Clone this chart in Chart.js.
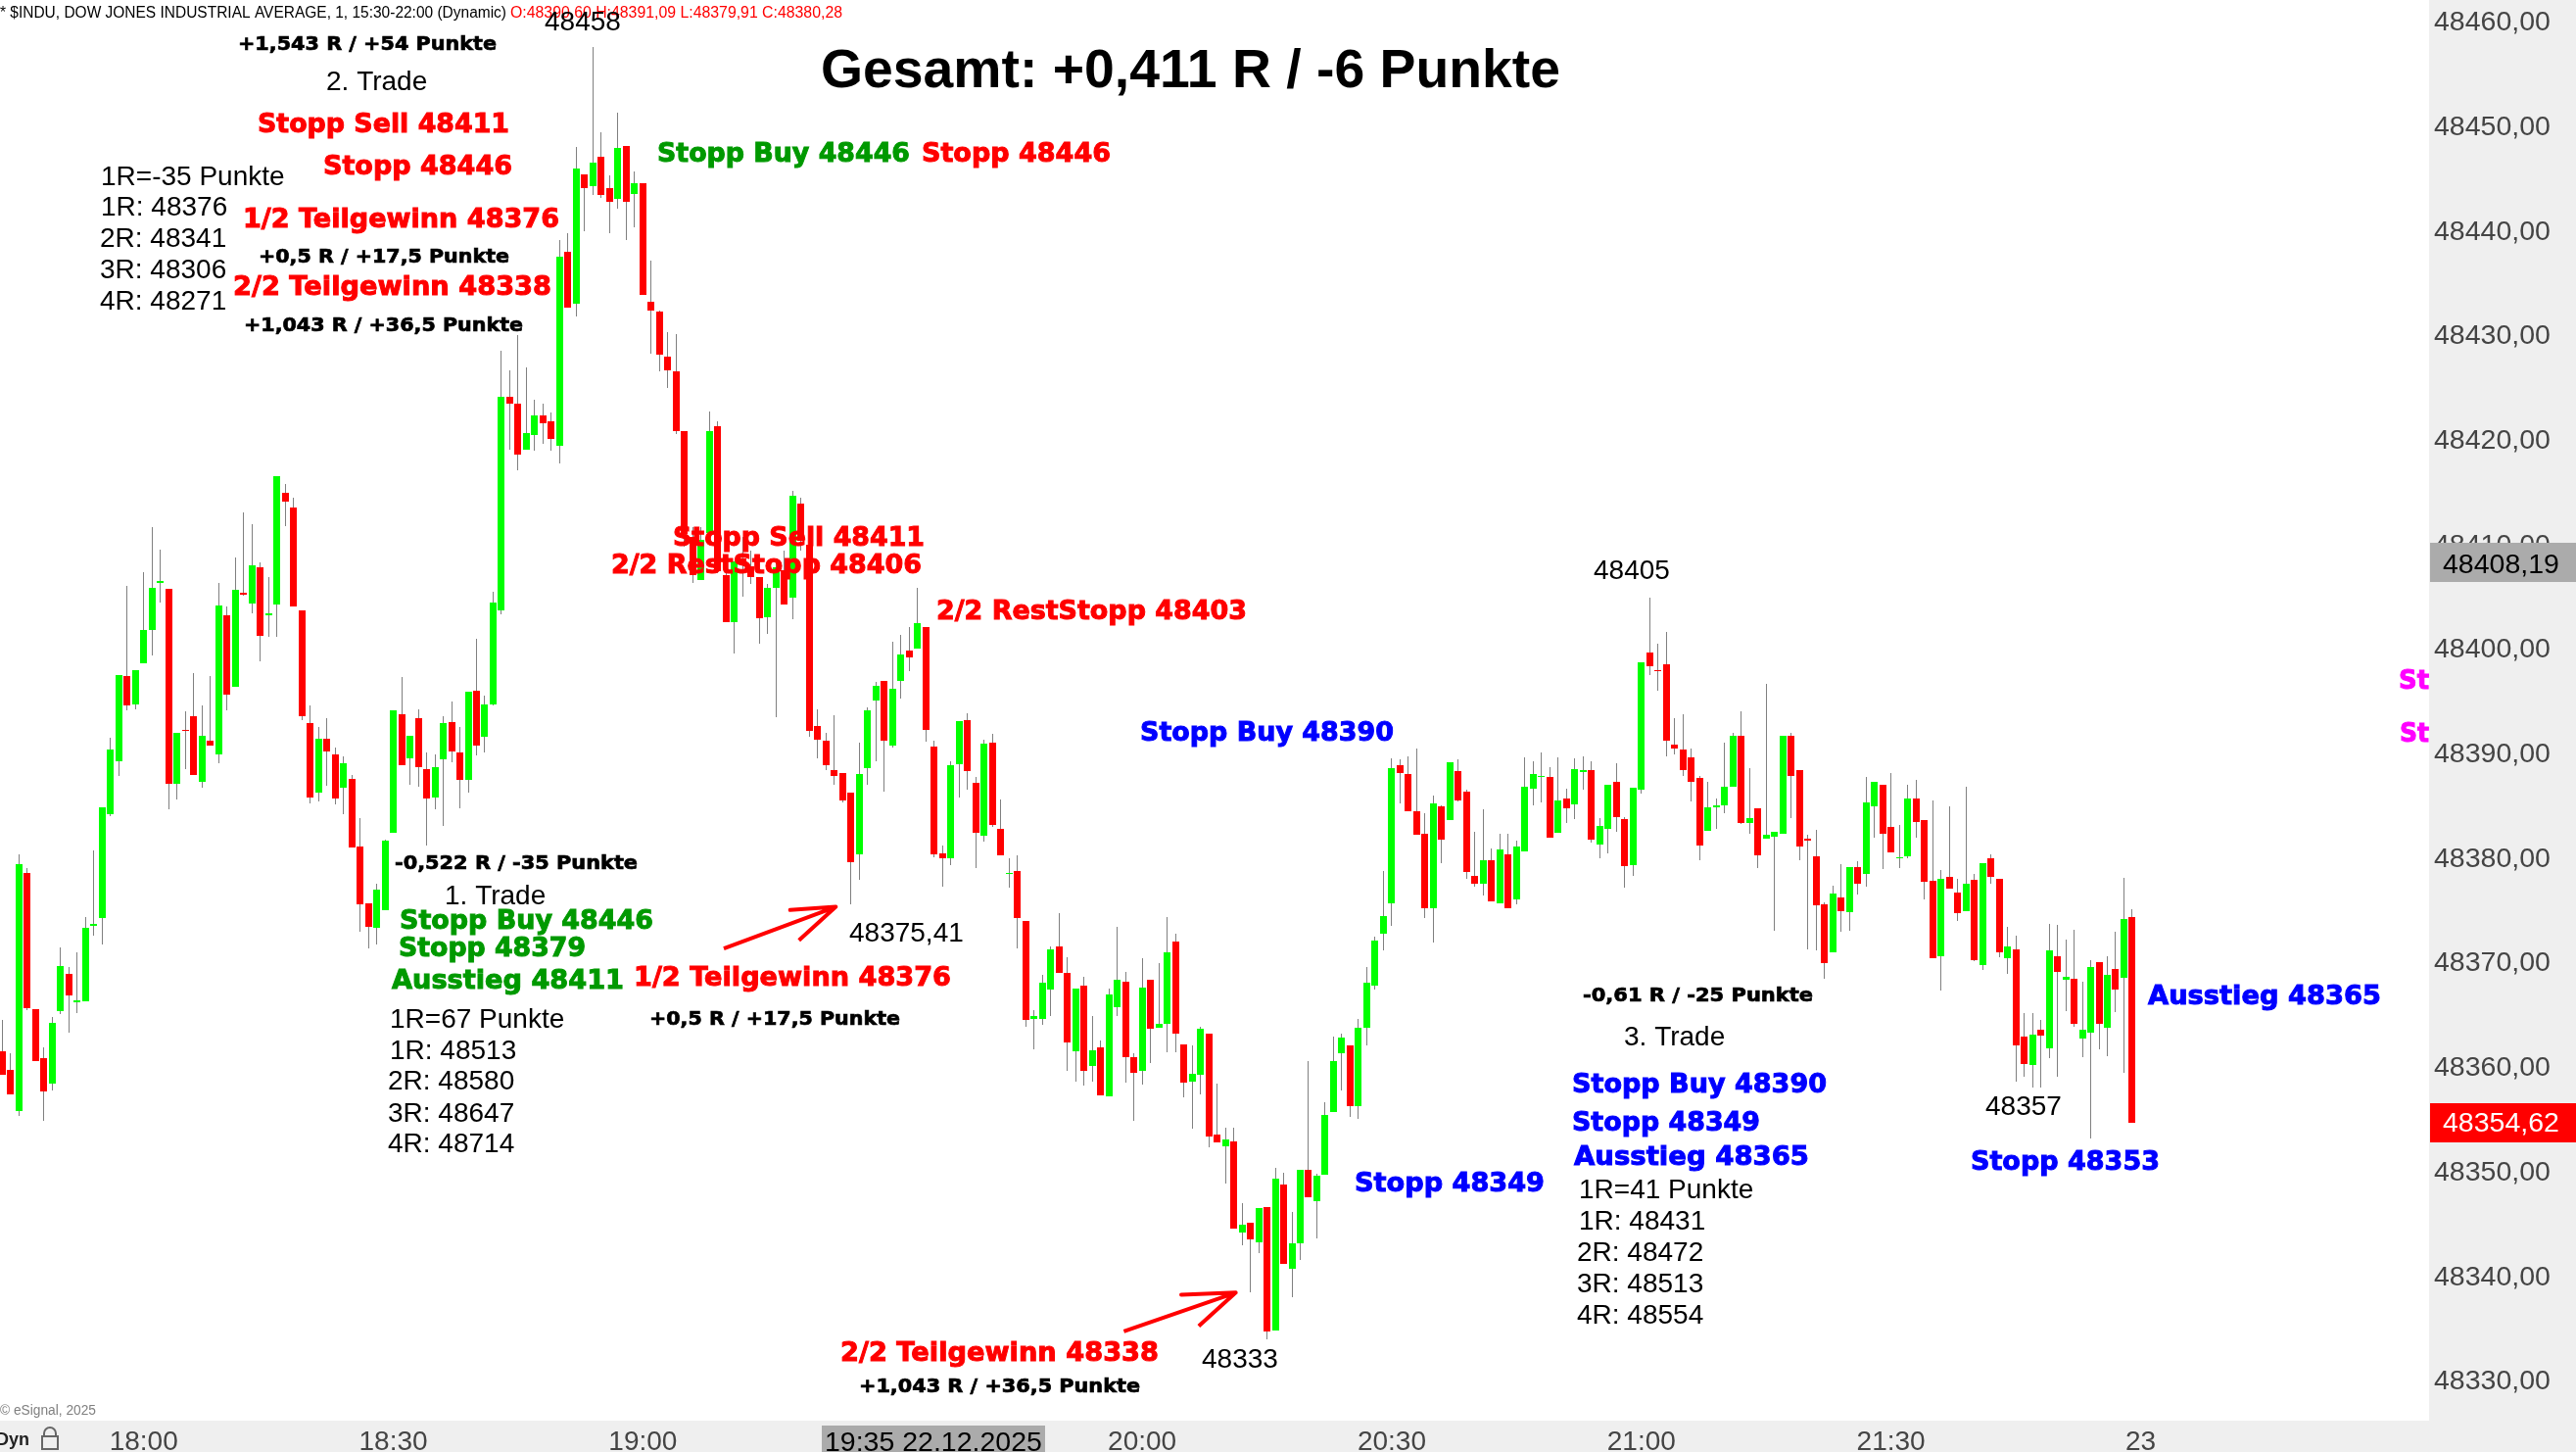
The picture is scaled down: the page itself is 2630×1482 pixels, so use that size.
<!DOCTYPE html>
<html>
<head>
<meta charset="utf-8">
<title>$INDU 1 Minute</title>
<script src="https://cdn.jsdelivr.net/npm/chart.js@4"></script>
<style>
    html, body { margin: 0; padding: 0; background: #fff; overflow: hidden; }
    canvas { display: block; }
</style>
</head>
<body>
<canvas id="candleChart" width="2630" height="1482"></canvas>
<script>
// one candle per minute, first one is 17:43
const opens = [
    48361.5,48359.7,48355.8,48378.5,48365.5,48360.8,48358.4,48365.3,48368.9,48366.2,
    48366.3,48373.5,48374.2,48384.2,48389.2,48397.4,48394.7,48398.6,48401.8,48406.3,
    48405.7,48387.1,48392.2,48393.5,48387.3,48391.2,48389.9,48403.2,48396.3,48405.3,
    48404.3,48407.8,48403.2,48404.2,48414.9,48413.5,48403.7,48392.9,48386.2,48391.4,
    48389.9,48386.7,48387.5,48381.1,48375.6,48373.3,48375.0,48382.4,48393.7,48389.5,
    48393.3,48388.5,48385.8,48389.4,48393.0,48390.1,48387.4,48396.0,48391.6,48394.7,
    48403.7,48424.1,48423.4,48419.0,48420.4,48422.3,48421.7,48419.4,48438.0,48433.0,
    48445.4,48444.2,48447.0,48444.0,48443.0,48448.1,48443.5,48444.5,48433.2,48432.2,
    48427.9,48426.5,48420.8,48410.7,48406.6,48411.1,48421.3,48407.0,48402.5,48408.6,
    48407.9,48406.8,48403.0,48405.8,48407.5,48404.9,48413.9,48409.9,48392.6,48391.2,
    48388.4,48388.1,48386.2,48380.3,48388.6,48395.0,48396.9,48390.7,48396.9,48399.8,
    48400.0,48402.1,48390.6,48380.4,48379.9,48388.9,48393.2,48387.2,48382.1,48391.0,
    48382.8,48378.4,48378.7,48373.9,48364.6,48364.6,48367.4,48371.5,48369.0,48361.5,
    48367.8,48360.1,48361.9,48357.2,48365.7,48368.1,48360.9,48359.6,48368.3,48363.7,
    48364.1,48372.0,48362.1,48358.6,48359.2,48363.2,48353.5,48352.4,48352.9,48344.1,
    48345.1,48343.2,48346.6,48334.8,48348.7,48340.7,48343.1,48350.1,48347.1,48349.7,
    48355.7,48361.3,48362.0,48356.2,48363.7,48367.8,48372.7,48375.6,48388.8,48388.0,
    48384.4,48382.3,48375.2,48384.9,48383.6,48388.3,48386.3,48378.3,48377.5,48379.8,
    48375.6,48380.3,48376.0,48380.6,48386.6,48387.7,48387.7,48382.4,48385.7,48385.1,
    48388.2,48388.4,48381.3,48382.8,48387.3,48383.7,48379.3,48386.5,48399.6,48397.9,
    48398.5,48390.8,48390.3,48389.6,48387.6,48382.6,48384.8,48385.0,48386.8,48391.7,
    48383.3,48384.7,48381.8,48382.0,48382.3,48391.7,48388.4,48381.8,48380.1,48375.5,
    48370.9,48376.2,48374.8,48379.1,48378.4,48384.9,48387.0,48382.9,48379.9,48380.1,
    48385.7,48383.6,48377.8,48370.6,48378.2,48376.7,48374.9,48377.9,48369.7,48379.9,
    48378.0,48370.4,48371.2,48362.9,48360.2,48363.5,48361.8,48370.6,48368.3,48368.4,
    48362.7,48363.3,48370.0,48363.7,48369.4,48368.5,48374.3
];
const highs = [
    48364.5,48361.3,48380.3,48379.0,48365.5,48361.9,48364.8,48371.4,48369.5,48370.9,
    48374.3,48380.7,48384.8,48391.5,48397.5,48406.0,48397.9,48407.3,48411.6,48409.5,
    48405.7,48391.9,48394.0,48397.7,48394.6,48397.4,48406.3,48404.0,48408.7,48413.0,
    48411.9,48408.2,48406.8,48416.5,48415.7,48414.4,48403.7,48394.6,48392.5,48393.3,
    48390.5,48389.7,48387.9,48383.8,48375.6,48377.5,48381.7,48394.1,48397.3,48391.7,
    48394.2,48390.1,48389.9,48393.5,48394.9,48392.5,48395.9,48400.9,48395.5,48405.4,
    48428.5,48426.6,48430.0,48426.9,48423.8,48423.4,48422.6,48439.1,48439.7,48448.0,
    48445.4,48457.5,48449.4,48445.3,48451.3,48448.1,48445.6,48444.5,48437.1,48432.3,
    48430.3,48430.1,48420.8,48411.6,48411.6,48422.7,48421.7,48408.8,48408.3,48410.7,
    48409.4,48406.8,48406.2,48408.6,48409.4,48415.1,48414.4,48409.9,48394.2,48391.9,
    48393.6,48388.1,48386.2,48391.0,48394.4,48396.8,48396.9,48400.7,48401.3,48402.1,
    48405.8,48402.1,48391.2,48381.2,48389.2,48393.1,48393.8,48387.7,48391.3,48391.8,
    48385.6,48379.9,48380.2,48373.9,48365.4,48368.8,48371.5,48374.7,48370.5,48367.5,
    48368.6,48364.9,48362.5,48367.5,48373.4,48369.1,48361.3,48370.4,48368.3,48369.9,
    48374.3,48372.7,48362.1,48362.0,48363.8,48363.2,48358.4,48354.2,48354.2,48347.0,
    48345.1,48346.5,48346.6,48350.3,48349.9,48346.1,48350.1,48360.5,48349.8,48356.6,
    48362.9,48363.2,48362.0,48364.6,48369.5,48372.4,48378.7,48389.5,48389.4,48389.7,
    48390.4,48384.3,48385.9,48385.0,48389.1,48389.4,48386.5,48382.5,48384.6,48380.9,
    48382.3,48382.3,48381.6,48389.6,48389.2,48390.1,48388.7,48389.6,48386.6,48389.5,
    48389.7,48389.2,48383.8,48387.0,48389.0,48383.9,48386.7,48398.7,48404.9,48400.5,
    48401.6,48393.3,48393.7,48390.4,48387.8,48387.3,48385.7,48391.0,48391.9,48394.0,
    48388.6,48384.7,48396.6,48382.5,48391.7,48391.9,48388.4,48382.2,48382.7,48375.7,
    48377.3,48379.4,48379.1,48379.7,48387.7,48387.3,48387.0,48388.1,48383.1,48387.0,
    48387.4,48383.6,48385.5,48378.8,48384.9,48378.0,48386.8,48378.4,48379.5,48380.3,
    48378.0,48373.4,48372.5,48365.1,48365.1,48364.5,48373.7,48373.6,48372.2,48373.1,
    48368.1,48370.2,48370.0,48370.6,48372.9,48378.1,48375.1
];
const lows = [
    48359.2,48357.4,48355.3,48365.4,48360.5,48354.8,48357.7,48365.0,48363.3,48365.1,
    48366.3,48372.5,48371.7,48384.0,48387.8,48394.1,48394.2,48398.6,48399.3,48404.4,
    48384.6,48385.6,48388.5,48387.9,48386.7,48390.7,48389.0,48394.1,48396.3,48405.1,
    48403.4,48398.8,48401.1,48401.1,48411.7,48404.0,48393.2,48385.2,48385.4,48386.9,
    48385.1,48384.2,48381.0,48372.9,48371.3,48371.7,48375.0,48382.4,48388.8,48387.0,
    48386.8,48381.2,48384.6,48383.0,48389.1,48384.7,48386.2,48389.8,48390.1,48394.6,
    48403.3,48419.0,48417.1,48419.0,48418.9,48419.6,48418.9,48417.7,48432.6,48431.8,
    48439.9,48443.4,48443.1,48439.7,48442.1,48439.1,48440.3,48433.8,48428.2,48426.5,
    48424.9,48420.5,48409.7,48406.3,48406.6,48411.0,48407.2,48402.5,48399.5,48405.0,
    48406.2,48400.5,48401.4,48393.4,48404.2,48402.8,48409.4,48391.6,48389.5,48388.4,
    48387.0,48385.3,48375.5,48377.9,48387.0,48389.2,48386.3,48390.5,48395.2,48397.8,
    48400.0,48391.1,48380.0,48377.2,48379.3,48385.8,48386.5,48379.0,48381.5,48382.9,
    48380.2,48377.1,48371.3,48363.8,48361.7,48364.0,48364.9,48369.0,48359.6,48358.6,
    48358.2,48358.6,48357.3,48357.2,48364.9,48358.5,48354.8,48358.3,48360.4,48363.7,
    48361.4,48361.4,48357.1,48354.1,48357.4,48352.3,48352.8,48348.8,48344.5,48342.9,
    48338.4,48342.2,48333.9,48334.8,48341.1,48338.0,48341.5,48347.5,48343.6,48349.7,
    48355.7,48357.7,48355.2,48355.0,48362.0,48367.4,48371.1,48373.5,48385.2,48384.4,
    48382.2,48374.2,48371.9,48379.5,48383.6,48385.4,48378.0,48377.2,48376.4,48375.8,
    48375.6,48375.2,48375.5,48380.6,48385.0,48385.3,48381.9,48382.4,48383.3,48383.7,
    48386.5,48381.4,48379.9,48380.4,48382.5,48377.1,48378.3,48386.1,48397.5,48396.0,
    48389.7,48389.9,48387.8,48385.4,48379.8,48382.6,48382.8,48384.3,48386.8,48383.2,
    48382.3,48379.0,48381.8,48373.0,48382.3,48383.8,48379.8,48371.2,48371.1,48368.4,
    48370.9,48372.9,48373.0,48376.5,48377.2,48381.9,48378.9,48380.5,48379.0,48379.9,
    48381.9,48376.0,48370.4,48367.3,48377.0,48373.9,48374.9,48370.1,48369.3,48377.5,
    48370.5,48368.9,48358.6,48359.0,48358.0,48358.0,48360.8,48359.0,48365.3,48363.8,
    48360.9,48353.1,48361.7,48361.0,48365.2,48359.4,48354.6
];
const closes = [
    48359.2,48357.4,48379.4,48365.6,48360.5,48357.6,48364.2,48369.6,48366.8,48366.4,
    48373.3,48373.7,48384.8,48390.3,48397.5,48394.6,48397.9,48401.8,48405.8,48406.5,
    48387.1,48391.9,48392.1,48387.9,48391.7,48390.7,48404.1,48395.6,48405.6,48405.2,
    48408.0,48401.2,48403.4,48416.5,48414.1,48404.0,48393.5,48385.8,48391.4,48390.2,
    48385.7,48389.0,48381.0,48375.5,48373.4,48376.9,48381.6,48394.1,48388.8,48391.7,
    48388.7,48385.7,48388.7,48392.9,48390.2,48387.4,48395.9,48390.7,48394.7,48404.4,
    48424.1,48423.4,48418.6,48420.6,48422.3,48421.6,48420.1,48437.5,48432.6,48445.9,
    48444.0,48446.5,48443.4,48442.7,48447.9,48442.7,48444.5,48433.8,48432.3,48428.1,
    48426.6,48420.8,48411.0,48407.0,48410.4,48420.8,48407.4,48402.5,48408.3,48408.1,
    48406.8,48402.9,48405.8,48407.8,48404.2,48414.6,48410.3,48392.1,48391.3,48388.8,
    48387.8,48385.5,48379.6,48388.0,48394.1,48396.4,48391.2,48396.2,48399.4,48399.2,
    48402.4,48392.2,48380.3,48379.9,48388.8,48393.1,48388.3,48382.4,48390.9,48383.1,
    48380.2,48378.5,48374.2,48364.5,48364.9,48368.0,48371.2,48369.0,48362.3,48367.5,
    48359.6,48361.6,48357.3,48366.9,48368.3,48360.9,48359.4,48367.6,48363.6,48364.1,
    48370.9,48363.2,48358.5,48359.3,48363.6,48353.3,48352.8,48353.0,48344.5,48344.9,
    48343.5,48346.5,48334.7,48349.3,48341.1,48343.1,48350.1,48347.5,48349.6,48355.4,
    48360.5,48362.8,48356.2,48363.7,48368.0,48372.1,48374.4,48388.6,48388.1,48384.4,
    48382.2,48375.2,48385.2,48381.7,48389.1,48385.5,48378.6,48377.5,48379.8,48375.8,
    48380.8,48375.2,48381.1,48386.8,48388.0,48387.8,48381.9,48385.5,48384.7,48388.5,
    48388.4,48381.7,48383.0,48387.0,48383.9,48379.2,48386.7,48398.7,48398.3,48397.8,
    48391.2,48390.4,48388.4,48387.3,48381.2,48384.8,48385.0,48386.8,48391.7,48383.3,
    48383.8,48380.2,48382.2,48382.5,48391.7,48387.8,48381.1,48381.6,48375.4,48369.9,
    48376.6,48374.9,48379.1,48377.5,48385.3,48387.3,48382.3,48380.5,48380.0,48385.7,
    48383.4,48377.7,48370.4,48378.0,48377.0,48374.7,48377.5,48370.2,48379.5,48378.2,
    48370.9,48371.5,48362.0,48360.3,48363.1,48363.0,48371.1,48369.1,48368.6,48364.1,
    48363.5,48369.5,48364.1,48368.8,48367.4,48374.1,48354.6
];

const timeTickIndex = [17, 47, 77, 107, 137, 167, 197, 227, 257];
const timeTickLabels = ['18:00', '18:30', '19:00', '19:30', '20:00', '20:30', '21:00', '21:30', '23'];
const priceTicks = [48330, 48340, 48350, 48360, 48370, 48380, 48390, 48400, 48410, 48420, 48430, 48440, 48450, 48460];

// the two hand drawn arrows, candle index / price
const arrow1Index = [86.72, 100.18, 94.69, 100.18, 95.75];
const arrow1Price = [48371.3, 48375.3, 48375.0, 48375.3, 48372.1];
const arrow2Index = [134.8, 148.25, 141.7, 148.25, 143.8];
const arrow2Price = [48334.7, 48338.4, 48338.2, 48338.4, 48335.2];

const RED = '#ff0000', GREEN = '#009900', BLUE = '#0000ff', BLACK = '#000000';
const BOLD = 'bold 27px "DejaVu Sans"';
const SMALL_BOLD = 'bold 20px "DejaVu Sans"';
const PLAIN = '28px "Liberation Sans"';

// text, left, baseline, right (null = natural width), font, colour
const notes = [
    ['Gesamt: +0,411 R / -6 Punkte', 838, 89, 1593, 'bold 55px "Liberation Sans"', BLACK],
    ['+1,543 R / +54 Punkte', 243, 51, 507, SMALL_BOLD, BLACK],
    ['2. Trade', 333, 92, null, PLAIN, BLACK],
    ['Stopp Sell 48411', 263, 135, 520, BOLD, RED],
    ['Stopp 48446', 330, 178, 523, BOLD, RED],
    ['1R=-35 Punkte', 103, 189, null, PLAIN, BLACK],
    ['1R: 48376', 103, 220, null, PLAIN, BLACK],
    ['2R: 48341', 102, 252, null, PLAIN, BLACK],
    ['3R: 48306', 102, 284, null, PLAIN, BLACK],
    ['4R: 48271', 102, 316, null, PLAIN, BLACK],
    ['1/2 Teilgewinn 48376', 248, 232, 571, BOLD, RED],
    ['+0,5 R / +17,5 Punkte', 264, 268, 520, SMALL_BOLD, BLACK],
    ['2/2 Teilgewinn 48338', 238, 301, 563, BOLD, RED],
    ['+1,043 R / +36,5 Punkte', 249, 338, 534, SMALL_BOLD, BLACK],
    ['Stopp Buy 48446', 671, 165, 929, BOLD, GREEN],
    ['Stopp 48446', 941, 165, 1134, BOLD, RED],
    ['Stopp Sell 48411', 687, 557, 944, BOLD, RED],
    ['2/2 RestStopp 48406', 624, 585, 941, BOLD, RED],
    ['2/2 RestStopp 48403', 956, 632, 1273, BOLD, RED],
    ['48375,41', 867, 961, null, PLAIN, BLACK],
    ['1/2 Teilgewinn 48376', 647, 1006, 971, BOLD, RED],
    ['+0,5 R / +17,5 Punkte', 663, 1046, 919, SMALL_BOLD, BLACK],
    ['-0,522 R / -35 Punkte', 403, 887, 651, SMALL_BOLD, BLACK],
    ['1. Trade', 454, 923, null, PLAIN, BLACK],
    ['Stopp Buy 48446', 408, 948, 667, BOLD, GREEN],
    ['Stopp 48379', 407, 976, 598, BOLD, GREEN],
    ['Ausstieg 48411', 400, 1009, 637, BOLD, GREEN],
    ['1R=67 Punkte', 398, 1049, null, PLAIN, BLACK],
    ['1R: 48513', 398, 1081, null, PLAIN, BLACK],
    ['2R: 48580', 396, 1112, null, PLAIN, BLACK],
    ['3R: 48647', 396, 1145, null, PLAIN, BLACK],
    ['4R: 48714', 396, 1176, null, PLAIN, BLACK],
    ['48333', 1227, 1396, null, PLAIN, BLACK],
    ['2/2 Teilgewinn 48338', 858, 1389, 1183, BOLD, RED],
    ['+1,043 R / +36,5 Punkte', 877, 1421, 1164, SMALL_BOLD, BLACK],
    ['48405', 1627, 591, null, PLAIN, BLACK],
    ['Stopp Buy 48390', 1164, 756, 1423, BOLD, BLUE],
    ['Stopp 48349', 1383, 1216, 1577, BOLD, BLUE],
    ['-0,61 R / -25 Punkte', 1616, 1022, 1851, SMALL_BOLD, BLACK],
    ['3. Trade', 1658, 1067, null, PLAIN, BLACK],
    ['Stopp Buy 48390', 1605, 1115, 1865, BOLD, BLUE],
    ['Stopp 48349', 1605, 1154, 1797, BOLD, BLUE],
    ['Ausstieg 48365', 1607, 1189, 1847, BOLD, BLUE],
    ['1R=41 Punkte', 1612, 1223, null, PLAIN, BLACK],
    ['1R: 48431', 1612, 1255, null, PLAIN, BLACK],
    ['2R: 48472', 1610, 1287, null, PLAIN, BLACK],
    ['3R: 48513', 1610, 1319, null, PLAIN, BLACK],
    ['4R: 48554', 1610, 1351, null, PLAIN, BLACK],
    ['48357', 2027, 1138, null, PLAIN, BLACK],
    ['Stopp 48353', 2012, 1194, 2205, BOLD, BLUE],
    ['Ausstieg 48365', 2193, 1025, 2431, BOLD, BLUE],
    ['St', 2449, 703, 2480, BOLD, '#ff00ff'],
    ['St', 2450, 757, 2480, BOLD, '#ff00ff'],
    ['* $INDU, DOW JONES INDUSTRIAL AVERAGE, 1, 15:30-22:00 (Dynamic)', 0, 18, 517, '16px "Liberation Sans"', BLACK],
    ['O:48390,60 H:48391,09 L:48379,91 C:48380,28', 521, 18, 860, '16px "Liberation Sans"', RED],
    ['48458', 556, 31, null, PLAIN, BLACK],
    ['\u00a9 eSignal, 2025', 0, 1444, 98, '14px "Liberation Sans"', '#808080']
];

const wickData = opens.map((o, i) => ({ x: i, y: [lows[i], highs[i]] }));
const bodyData = opens.map((o, i) => ({ x: i, y: [Math.min(o, closes[i]), Math.max(o, closes[i])] }));
const bodyColors = opens.map((o, i) => closes[i] < o ? '#ff0000' : '#00ff00');

function arrowPoints(xs, ys) {
    return xs.map((x, i) => ({ x: x, y: ys[i] }));
}

function drawNote(ctx, n) {
    ctx.save();
    ctx.font = n[4];
    ctx.fillStyle = n[5];
    ctx.textAlign = 'left';
    ctx.textBaseline = 'alphabetic';
    ctx.translate(n[1], n[2]);
    if (n[3] !== null) {
        ctx.scale((n[3] - n[1]) / ctx.measureText(n[0]).width, 1);
    }
    ctx.fillText(n[0], 0, 0);
    // platform draws these extra heavy
    if (n[4] === BOLD || n[4] === SMALL_BOLD) {
        ctx.strokeStyle = n[5];
        ctx.lineWidth = n[4] === BOLD ? 1 : 0.7;
        ctx.strokeText(n[0], 0, 0);
    }
    ctx.restore();
}

function priceBox(ctx, top, bottom, fill, color, text, baseline) {
    ctx.fillStyle = fill;
    ctx.fillRect(2481, top, 149, bottom - top);
    ctx.fillStyle = color;
    ctx.font = '28.5px "Liberation Sans"';
    ctx.textAlign = 'left';
    ctx.textBaseline = 'alphabetic';
    ctx.fillText(text, 2494, baseline);
}

// grey axis panels, the candles are pixel snapped like in the original platform
const chartFrame = {
    id: 'chartFrame',
    afterDatasetsUpdate(chart) {
        chart.data.datasets.forEach((ds, d) => {
            if (ds.type !== 'bar') return;
            chart.getDatasetMeta(d).data.forEach(el => {
                el.x = Math.round(el.x - 0.5) + 0.5;
                el.y = Math.round(el.y);
                el.base = Math.round(el.base);
            });
        });
    },
    beforeDraw(chart) {
        const ctx = chart.ctx;
        ctx.save();
        ctx.fillStyle = '#ffffff';
        ctx.fillRect(0, 0, 2630, 1482);
        ctx.fillStyle = '#efefef';
        ctx.fillRect(2480, 0, 150, 1482);
        ctx.fillRect(0, 1450, 2630, 32);
        ctx.restore();
    },
    afterDraw(chart) {
        const ctx = chart.ctx;
        ctx.save();
        notes.forEach(n => drawNote(ctx, n));

        priceBox(ctx, 554, 594, '#ababab', '#000000', '48408,19', 585);
        priceBox(ctx, 1126, 1166, '#ff0000', '#ffffff', '48354,62', 1155);

        // crosshair time
        ctx.fillStyle = '#ababab';
        ctx.fillRect(839, 1455, 228, 27);
        ctx.fillStyle = '#000000';
        ctx.font = '28.5px "Liberation Sans"';
        ctx.textAlign = 'left';
        ctx.fillText('19:35 22.12.2025', 842, 1481);

        // bottom left status
        ctx.fillStyle = '#222222';
        ctx.font = 'bold 18px "Liberation Sans"';
        ctx.fillText('Dyn', -4, 1475);
        ctx.strokeStyle = '#666666';
        ctx.lineWidth = 2;
        ctx.strokeRect(43, 1466, 16, 13);
        ctx.beginPath();
        ctx.arc(51, 1463, 6, Math.PI, 0);
        ctx.lineTo(57, 1466);
        ctx.moveTo(45, 1463);
        ctx.lineTo(45, 1466);
        ctx.stroke();
        ctx.restore();
    }
};

const canvas = document.getElementById('candleChart');
const ctx = canvas.getContext('2d');

new Chart(ctx, {
    data: {
        datasets: [
            { type: 'line', data: arrowPoints(arrow1Index, arrow1Price), borderColor: '#ff0000', borderWidth: 4, borderJoinStyle: 'round', pointRadius: 0, tension: 0, order: 0 },
            { type: 'line', data: arrowPoints(arrow2Index, arrow2Price), borderColor: '#ff0000', borderWidth: 4, borderJoinStyle: 'round', pointRadius: 0, tension: 0, order: 0 },
            { type: 'bar', data: bodyData, backgroundColor: bodyColors, barThickness: 7, grouped: false, inflateAmount: 0, borderWidth: 0, order: 1 },
            { type: 'bar', data: wickData, backgroundColor: '#808080', barThickness: 1, grouped: false, inflateAmount: 0, borderWidth: 0, order: 2 }
        ]
    },
    options: {
        responsive: false,
        animation: false,
        layout: { padding: 0 },
        plugins: { legend: { display: false }, tooltip: { enabled: false } },
        events: [],
        scales: {
            x: {
                type: 'linear',
                offset: false,
                min: -0.27,
                max: 291.67,
                grid: { display: false, drawTicks: false },
                border: { display: false },
                afterBuildTicks(scale) {
                    scale.ticks = timeTickIndex.map(v => ({ value: v }));
                },
                afterFit(scale) {
                    scale.height = 32;
                    scale.paddingLeft = scale.paddingRight = 0;
                },
                ticks: {
                    autoSkip: false,
                    maxRotation: 0,
                    padding: 5,
                    color: '#444444',
                    font: { family: 'Liberation Sans', size: 28 },
                    callback(value) {
                        return timeTickLabels[timeTickIndex.indexOf(value)];
                    }
                }
            },
            y: {
                position: 'right',
                min: 48326.15,
                max: 48462.04,
                grid: { display: false, drawTicks: false },
                border: { display: false },
                afterBuildTicks(scale) {
                    scale.ticks = priceTicks.map(v => ({ value: v }));
                },
                afterFit(scale) {
                    scale.width = 150;
                    scale.paddingTop = scale.paddingBottom = 0;
                },
                ticks: {
                    autoSkip: false,
                    padding: 5,
                    labelOffset: 1.5,
                    color: '#444444',
                    font: { family: 'Liberation Sans', size: 28.5 },
                    callback(value) {
                        return value.toFixed(2).replace('.', ',');
                    }
                }
            }
        }
    },
    plugins: [chartFrame]
});
</script>
</body>
</html>
